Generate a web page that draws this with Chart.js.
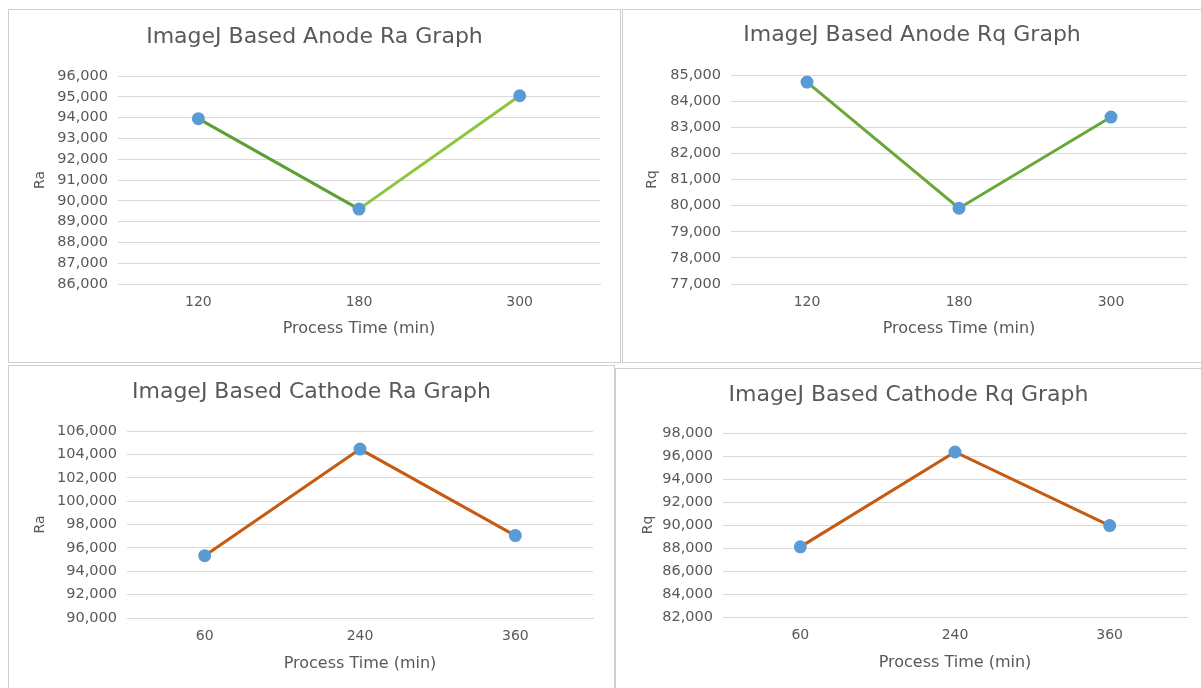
<!DOCTYPE html>
<html lang="en">
<head>
    <meta charset="UTF-8">
    <title>ImageJ Based Roughness Graphs</title>
    <script src="https://cdn.jsdelivr.net/npm/chart.js"></script>
    <style>
        body {
            margin: 0;
            background-color: #ffffff;
            font-family: "DejaVu Sans", sans-serif;
        }
        .panel {
            position: absolute;
            border: 1px solid #cfcfcf;
            background-color: white;
            box-sizing: border-box;
        }
    </style>
</head>
<body>
    <div class="panel" style="left:8px; top:9px; width:613px; height:354px;"><canvas id="anodeRa"></canvas></div>
    <div class="panel" style="left:622px; top:9px; width:580px; height:354px;"><canvas id="anodeRq"></canvas></div>
    <div class="panel" style="left:8px; top:365px; width:607px; height:326px;"><canvas id="cathodeRa"></canvas></div>
    <div class="panel" style="left:615px; top:368px; width:587px; height:323px;"><canvas id="cathodeRq"></canvas></div>

    <script>
        // process times (min)
        const anodeTimes = ["120", "180", "300"];
        const cathodeTimes = ["60", "240", "360"];

        // roughness values
        const anodeRa = [93950, 89600, 95050];
        const anodeRq = [84730, 79900, 83390];
        const cathodeRa = [95330, 104450, 97050];
        const cathodeRq = [88100, 96350, 89950];

        const textColor = '#595959';
        const gridColor = '#d9d9d9';
        const pointColor = '#5b9bd5';

        // where things sit inside each canvas (px)
        // yW: plot left edge, padR: right padding, titleC: chart title centre,
        // top/bottom: plot area, axisTitleC: x axis title centre, yTitleC: y title centre
        function makeChart(id, title, yLabel, labels, values, yMin, yMax, step, lineColors, box) {
            const canvas = document.getElementById(id);
            const canvasH = canvas.parentNode.clientHeight;
            const titleLh = 22 * 1.2;
            const xTitleLh = 16 * 1.2;
            const xH = box.axisTitleC - box.bottom + xTitleLh / 2 + 10;
            const titleTop = box.titleC - titleLh / 2;

            return new Chart(canvas.getContext("2d"), {
                type: 'line',
                data: {
                    labels: labels,
                    datasets: [{
                        label: yLabel,
                        data: values,
                        borderColor: lineColors[0],
                        borderWidth: 3,
                        segment: {
                            borderColor: c => lineColors[c.p0DataIndex] || lineColors[0],
                        },
                        pointBackgroundColor: pointColor,
                        pointBorderColor: pointColor,
                        pointRadius: 5,
                        tension: 0,
                        fill: false,
                    }],
                },
                options: {
                    responsive: true,
                    maintainAspectRatio: false,
                    animation: false,
                    // same padding both sides so the title sits in the middle of the panel
                    layout: { padding: { top: 0, right: box.padR, bottom: canvasH - box.bottom - xH, left: box.padR } },
                    plugins: {
                        legend: { display: false },
                        tooltip: { enabled: false },
                        title: {
                            display: true,
                            text: title,
                            color: textColor,
                            font: { family: 'DejaVu Sans', size: 22, weight: 'normal' },
                            padding: { top: titleTop, bottom: box.top - titleTop - titleLh },
                        },
                    },
                    scales: {
                        x: {
                            offset: true,
                            afterFit: s => { s.height = xH; },
                            grid: { display: false, drawTicks: false },
                            border: { display: true, color: gridColor, width: 1 },
                            ticks: { color: textColor, font: { family: 'DejaVu Sans', size: 14 }, padding: 10 },
                            title: {
                                display: true,
                                text: 'Process Time (min)',
                                color: textColor,
                                font: { family: 'DejaVu Sans', size: 16 },
                                padding: { top: 0, bottom: 10 },
                            },
                        },
                        y: {
                            min: yMin,
                            max: yMax,
                            afterFit: s => { s.width = box.yW - box.padR; },
                            grid: { color: gridColor, drawTicks: false },
                            border: { display: false },
                            ticks: {
                                stepSize: step,
                                color: textColor,
                                font: { family: 'DejaVu Sans', size: 14.5 },
                                padding: 10,
                                callback: v => v.toLocaleString('en-US'),
                            },
                            title: {
                                display: true,
                                text: yLabel,
                                color: textColor,
                                font: { family: 'DejaVu Sans', size: 14 },
                                padding: { top: box.yTitleC - 8.4 - box.padR, bottom: 0 },
                            },
                        },
                    },
                },
            });
        }

        makeChart("anodeRa", "ImageJ Based Anode Ra Graph", "Ra", anodeTimes, anodeRa, 86000, 96000, 1000,
            ['#5e9f35', '#8cc63f'],
            { yW: 109, padR: 20, titleC: 27, top: 66, bottom: 274, axisTitleC: 319, yTitleC: 31 });
        makeChart("anodeRq", "ImageJ Based Anode Rq Graph", "Rq", anodeTimes, anodeRq, 77000, 85000, 1000,
            ['#68a83b', '#68a83b'],
            { yW: 108, padR: 14, titleC: 25, top: 65, bottom: 274, axisTitleC: 319, yTitleC: 29 });
        makeChart("cathodeRa", "ImageJ Based Cathode Ra Graph", "Ra", cathodeTimes, cathodeRa, 90000, 106000, 2000,
            ['#c55a11', '#c55a11'],
            { yW: 118, padR: 21, titleC: 26, top: 65, bottom: 252, axisTitleC: 298, yTitleC: 31 });
        makeChart("cathodeRq", "ImageJ Based Cathode Rq Graph", "Rq", cathodeTimes, cathodeRq, 82000, 98000, 2000,
            ['#c55a11', '#c55a11'],
            { yW: 107, padR: 14, titleC: 26, top: 64, bottom: 248, axisTitleC: 294, yTitleC: 32 });
    </script>
</body>
</html>
